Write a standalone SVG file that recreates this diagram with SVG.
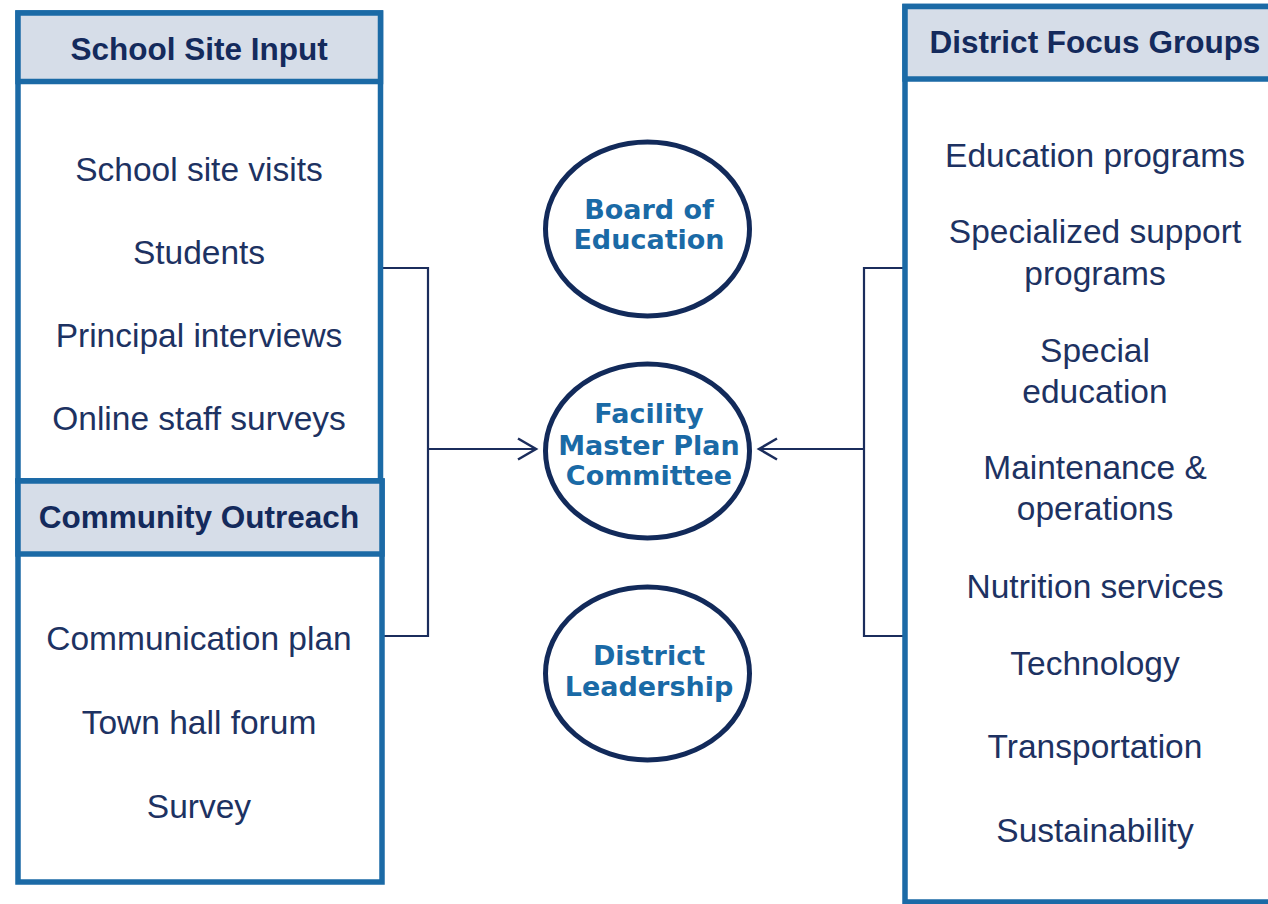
<svg xmlns="http://www.w3.org/2000/svg" width="1268" height="904" viewBox="0 0 1268 904">
<style>
.box{fill:#ffffff;stroke:#1b6aa6;stroke-width:5.5}
.hdr{fill:#d6dde8;stroke:#1b6aa6;stroke-width:5.5}
.title{font-family:"Liberation Sans",Arial,sans-serif;font-weight:bold;font-size:31.5px;fill:#142a5c;text-anchor:middle}
.item{font-family:"Liberation Sans",Arial,sans-serif;font-size:33.5px;fill:#1d3262;text-anchor:middle}
.ell{fill:#ffffff;stroke:#122a5a;stroke-width:5}
.etxt{font-family:"DejaVu Sans",sans-serif;font-weight:bold;font-size:27px;fill:#1a6aa6;text-anchor:middle}
.conn{fill:none;stroke:#1b2d5c;stroke-width:2.2}
</style>
<defs>
<marker id="arr" markerUnits="userSpaceOnUse" markerWidth="24" markerHeight="26" refX="21" refY="13" orient="auto">
<path d="M3,2.5 L21,13 L3,23.5" fill="none" stroke="#1b2d5c" stroke-width="2.5"/>
</marker>
</defs>
<rect width="1268" height="904" fill="#ffffff"/>

<g id="connectors">
<path class="conn" d="M383,268 H428 V636 H383"/>
<path class="conn" d="M428,449 H536" marker-end="url(#arr)"/>
<path class="conn" d="M903,268 H864 V636 H903"/>
<path class="conn" d="M864,449 H759" marker-end="url(#arr)"/>
</g>

<g id="school-site-input">
<rect class="box" x="18" y="13" width="362.5" height="468"/>
<rect class="hdr" x="18" y="13" width="362.5" height="68.5"/>
<text class="title" x="199" y="60">School Site Input</text>
<text class="item" x="199" y="181">School site visits</text>
<text class="item" x="199" y="264">Students</text>
<text class="item" x="199" y="347">Principal interviews</text>
<text class="item" x="199" y="430">Online staff surveys</text>
</g>

<g id="community-outreach">
<rect class="box" x="18" y="481" width="364" height="401"/>
<rect class="hdr" x="18" y="481" width="364" height="73"/>
<text class="title" x="199" y="528">Community Outreach</text>
<text class="item" x="199" y="650">Communication plan</text>
<text class="item" x="199" y="734">Town hall forum</text>
<text class="item" x="199" y="818">Survey</text>
</g>

<g id="district-focus-groups">
<rect class="box" x="905" y="6.5" width="400" height="895.5"/>
<rect class="hdr" x="905" y="6.5" width="400" height="72.5"/>
<text class="title" x="1095" y="53">District Focus Groups</text>
<text class="item" x="1095" y="167">Education programs</text>
<text class="item" x="1095" y="243">Specialized support</text>
<text class="item" x="1095" y="285">programs</text>
<text class="item" x="1095" y="362">Special</text>
<text class="item" x="1095" y="403">education</text>
<text class="item" x="1095" y="479">Maintenance &amp;</text>
<text class="item" x="1095" y="520">operations</text>
<text class="item" x="1095" y="598">Nutrition services</text>
<text class="item" x="1095" y="675">Technology</text>
<text class="item" x="1095" y="758">Transportation</text>
<text class="item" x="1095" y="842">Sustainability</text>
</g>

<g id="board-of-education">
<ellipse class="ell" cx="647.5" cy="229" rx="102" ry="87"/>
<text class="etxt" x="649" y="219">Board of</text>
<text class="etxt" x="649" y="249">Education</text>
</g>

<g id="facility-master-plan-committee">
<ellipse class="ell" cx="647.5" cy="451" rx="102" ry="87"/>
<text class="etxt" x="649" y="423">Facility</text>
<text class="etxt" x="649" y="455">Master Plan</text>
<text class="etxt" x="649" y="485">Committee</text>
</g>

<g id="district-leadership">
<ellipse class="ell" cx="647.5" cy="673.5" rx="102" ry="86.5"/>
<text class="etxt" x="649" y="665">District</text>
<text class="etxt" x="649" y="696">Leadership</text>
</g>
</svg>
